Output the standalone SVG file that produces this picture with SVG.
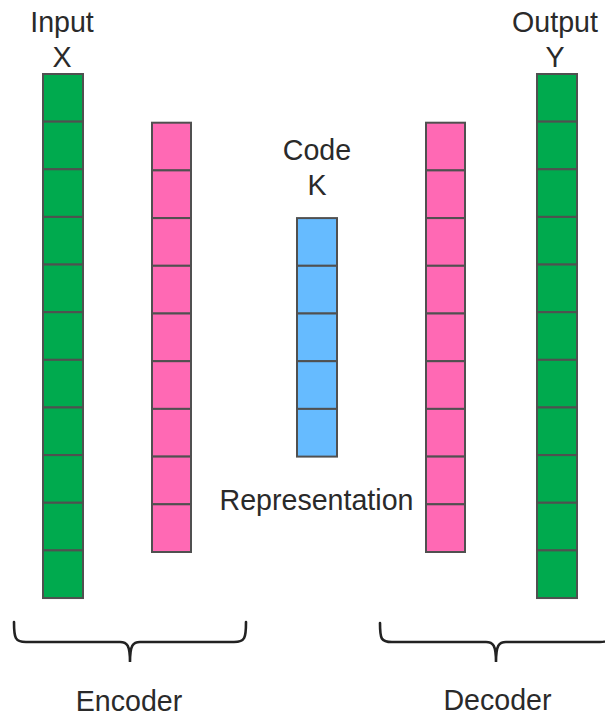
<svg xmlns="http://www.w3.org/2000/svg" width="605" height="718" viewBox="0 0 605 718">
<style>
.t{font-family:"Liberation Sans",Arial,sans-serif;font-size:28.6px;fill:#2a2a2a;text-anchor:middle}
.g{fill:#00AA4E;stroke:#505050;stroke-width:2}
.p{fill:#FF69B4;stroke:#505050;stroke-width:2}
.b{fill:#66BBFF;stroke:#505050;stroke-width:2}
.br{fill:none;stroke:#222;stroke-width:2.6;stroke-linecap:round}
</style>
<rect width="605" height="718" fill="#fff"/>
<g id="input">
<text class="t" x="62" y="32">Input</text>
<text class="t" x="62" y="67">X</text>
<rect class="g" x="43" y="74" width="40" height="47.64"/>
<rect class="g" x="43" y="121.64" width="40" height="47.64"/>
<rect class="g" x="43" y="169.28" width="40" height="47.64"/>
<rect class="g" x="43" y="216.92" width="40" height="47.64"/>
<rect class="g" x="43" y="264.56" width="40" height="47.64"/>
<rect class="g" x="43" y="312.2" width="40" height="47.64"/>
<rect class="g" x="43" y="359.84" width="40" height="47.64"/>
<rect class="g" x="43" y="407.48" width="40" height="47.64"/>
<rect class="g" x="43" y="455.12" width="40" height="47.64"/>
<rect class="g" x="43" y="502.76" width="40" height="47.64"/>
<rect class="g" x="43" y="550.4" width="40" height="47.64"/>
</g>
<g id="encoder-hidden">
<rect class="p" x="152" y="122.7" width="39" height="47.7"/>
<rect class="p" x="152" y="170.4" width="39" height="47.7"/>
<rect class="p" x="152" y="218.1" width="39" height="47.7"/>
<rect class="p" x="152" y="265.8" width="39" height="47.7"/>
<rect class="p" x="152" y="313.5" width="39" height="47.7"/>
<rect class="p" x="152" y="361.2" width="39" height="47.7"/>
<rect class="p" x="152" y="408.9" width="39" height="47.7"/>
<rect class="p" x="152" y="456.6" width="39" height="47.7"/>
<rect class="p" x="152" y="504.3" width="39" height="47.7"/>
</g>
<g id="code">
<text class="t" x="317" y="160">Code</text>
<text class="t" x="317" y="195">K</text>
<rect class="b" x="297" y="218.1" width="40" height="47.7"/>
<rect class="b" x="297" y="265.8" width="40" height="47.7"/>
<rect class="b" x="297" y="313.5" width="40" height="47.7"/>
<rect class="b" x="297" y="361.2" width="40" height="47.7"/>
<rect class="b" x="297" y="408.9" width="40" height="47.7"/>
<text class="t" x="316.5" y="510">Representation</text>
</g>
<g id="decoder-hidden">
<rect class="p" x="426" y="122.7" width="39" height="47.7"/>
<rect class="p" x="426" y="170.4" width="39" height="47.7"/>
<rect class="p" x="426" y="218.1" width="39" height="47.7"/>
<rect class="p" x="426" y="265.8" width="39" height="47.7"/>
<rect class="p" x="426" y="313.5" width="39" height="47.7"/>
<rect class="p" x="426" y="361.2" width="39" height="47.7"/>
<rect class="p" x="426" y="408.9" width="39" height="47.7"/>
<rect class="p" x="426" y="456.6" width="39" height="47.7"/>
<rect class="p" x="426" y="504.3" width="39" height="47.7"/>
</g>
<g id="output">
<text class="t" x="555" y="32">Output</text>
<text class="t" x="555" y="67">Y</text>
<rect class="g" x="537" y="74" width="40" height="47.64"/>
<rect class="g" x="537" y="121.64" width="40" height="47.64"/>
<rect class="g" x="537" y="169.28" width="40" height="47.64"/>
<rect class="g" x="537" y="216.92" width="40" height="47.64"/>
<rect class="g" x="537" y="264.56" width="40" height="47.64"/>
<rect class="g" x="537" y="312.2" width="40" height="47.64"/>
<rect class="g" x="537" y="359.84" width="40" height="47.64"/>
<rect class="g" x="537" y="407.48" width="40" height="47.64"/>
<rect class="g" x="537" y="455.12" width="40" height="47.64"/>
<rect class="g" x="537" y="502.76" width="40" height="47.64"/>
<rect class="g" x="537" y="550.4" width="40" height="47.64"/>
</g>
<g id="braces">
<g id="encoder">
<path class="br" d="M14,622 C14,638 15,642 26,642 L120,642 C127,642 130,645 130,662 C130,645 133,642 140,642 L234,642 C245,642 246,638 246,622"/>
<text class="t" x="129" y="711">Encoder</text>
</g>
<g id="decoder">
<path class="br" d="M380,623 C380,639 381,642 392,642 L486,642 C493,642 496,645 496,662 C496,645 499,642 506,642 L600,642 C611,642 612,638 612,623"/>
<text class="t" x="497.5" y="710">Decoder</text>
</g>
</g>
</svg>
